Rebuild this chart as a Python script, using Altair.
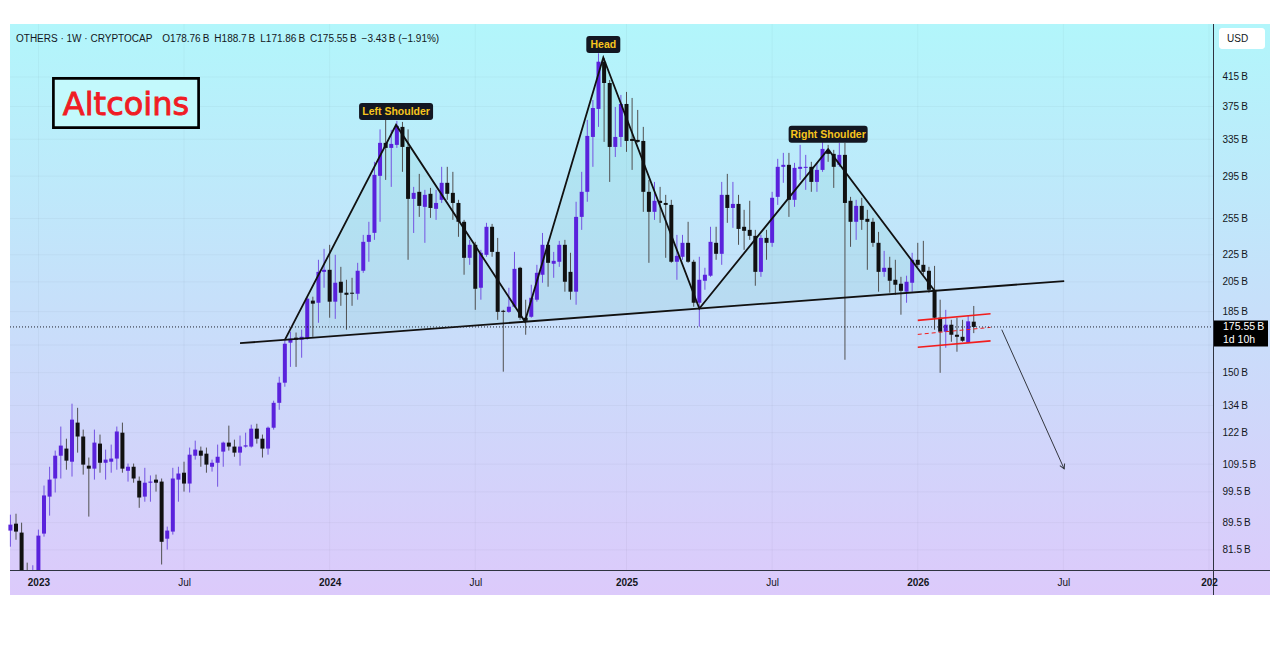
import altair as alt
import pandas as pd

# ---------------- data (values in billions USD) ----------------
FIRST_WEEK = "2022-11-28"

opens = [
    87.1, 89.2, 86.5, 75.5, 74.6, 75.8, 86.2, 97.9, 104.2, 112.7,
    115.5, 110.4, 126.3, 120.4, 108.9, 107.8, 117.5, 110.0, 110.4, 111.6,
    122.0, 107.0, 108.5, 103.4, 97.9, 102.7, 103.8, 103.1, 84.7, 86.8,
    103.8, 106.3, 102.4, 112.7, 114.7, 113.5, 108.5, 110.0, 114.3, 117.9,
    116.3, 113.9, 116.3, 116.3, 123.7, 119.5, 115.5, 124.1, 135.2, 144.9,
    166.3, 169.2, 168.0, 168.6, 192.2, 190.8, 212.2, 213.7, 191.5, 205.1,
    197.5, 197.5, 196.8, 213.0, 235.3, 242.7, 295.3, 330.8, 325.1, 328.5,
    349.5, 326.2, 272.8, 279.5, 265.4, 277.6, 263.6, 271.9, 288.3, 278.5,
    269.0, 252.1, 222.7, 232.9, 200.9, 225.0, 247.8, 227.3, 185.6, 184.9,
    188.2, 215.2, 181.2, 181.8, 192.8, 210.1, 232.9, 218.2, 219.7, 232.9,
    212.2, 198.2, 256.4, 279.5, 337.6, 371.8, 437.4, 406.5, 326.2, 337.6,
    378.2, 335.3, 334.2, 333.0, 279.5, 260.9, 271.0, 269.0, 267.2, 219.7,
    223.5, 234.5, 219.7, 190.8, 205.8, 209.4, 234.5, 225.8, 276.6, 264.4,
    268.1, 247.8, 245.2, 240.2, 212.2, 238.5, 234.5, 274.7, 304.6, 306.7,
    271.9, 302.5, 303.5, 304.6, 289.2, 301.4, 322.9, 318.5, 306.7, 317.4,
    271.0, 252.1, 266.3, 254.7, 252.1, 234.5, 212.2, 215.2, 206.5, 203.7,
    198.2, 204.4, 221.2, 217.4, 213.0, 199.5, 181.2, 172.7, 176.9, 170.9,
    169.7, 166.3, 178.76,
]
highs = [
    92.0, 92.3, 89.5, 78.0, 77.3, 87.4, 101.7, 108.5, 114.7, 124.6,
    119.5, 134.8, 132.9, 123.3, 112.0, 123.3, 121.2, 115.1, 117.1, 124.6,
    126.3, 109.7, 109.7, 104.9, 108.1, 105.3, 105.6, 104.2, 88.3, 108.1,
    108.5, 110.4, 115.9, 118.7, 116.3, 115.9, 111.2, 117.1, 118.3, 125.0,
    119.1, 120.8, 122.0, 125.4, 125.8, 121.2, 124.6, 136.2, 147.9, 168.0,
    172.7, 172.2, 173.9, 194.8, 194.8, 221.2, 229.7, 232.9, 225.0, 215.9,
    206.5, 207.9, 218.9, 241.0, 252.1, 309.9, 346.5, 359.2, 345.9, 356.8,
    355.5, 346.5, 284.3, 297.3, 281.4, 283.3, 281.4, 304.6, 304.6, 299.4,
    271.9, 253.8, 236.9, 235.3, 228.9, 251.2, 250.3, 238.5, 186.2, 200.9,
    227.3, 215.9, 192.8, 203.0, 217.4, 242.6, 235.3, 227.3, 236.1, 236.9,
    226.6, 270.1, 299.4, 358.0, 383.4, 450.3, 443.0, 410.7, 374.3, 390.1,
    394.2, 386.1, 370.5, 349.5, 291.2, 289.2, 284.3, 276.6, 271.9, 241.0,
    241.0, 252.1, 221.2, 223.5, 215.2, 247.8, 247.8, 289.2, 297.3, 289.2,
    276.6, 262.7, 271.0, 245.2, 241.0, 245.2, 279.5, 313.1, 319.6, 319.6,
    308.8, 328.5, 317.4, 309.9, 308.8, 334.2, 328.5, 322.9, 330.8, 330.8,
    274.7, 271.9, 273.8, 262.7, 255.5, 243.5, 228.1, 223.5, 221.2, 208.6,
    209.4, 226.6, 234.5, 236.1, 215.9, 216.6, 192.8, 186.2, 179.9, 181.2,
    179.9, 182.4, 188.7,
]
lows = [
    82.4, 84.4, 73.5, 72.8, 73.5, 75.0, 85.3, 91.7, 99.3, 104.2,
    107.4, 104.9, 113.9, 105.6, 91.4, 103.8, 106.3, 103.8, 106.3, 107.4,
    106.3, 103.1, 102.7, 94.2, 96.2, 96.2, 99.6, 77.5, 81.6, 85.9,
    96.2, 99.6, 99.3, 111.2, 108.5, 106.3, 106.7, 101.3, 108.5, 114.7,
    112.3, 108.9, 115.9, 115.9, 117.5, 112.0, 113.1, 123.3, 132.0, 142.9,
    153.0, 153.0, 157.9, 168.0, 169.7, 178.1, 200.9, 181.2, 180.5, 188.8,
    173.9, 188.8, 192.8, 211.5, 219.7, 236.9, 252.1, 291.2, 284.3, 325.1,
    299.4, 221.2, 242.6, 256.4, 234.5, 255.5, 253.8, 269.0, 271.9, 253.8,
    239.4, 210.1, 217.4, 186.2, 192.8, 223.5, 223.5, 179.9, 150.5, 184.3,
    187.6, 179.9, 170.9, 181.2, 191.5, 204.4, 201.6, 207.9, 215.9, 198.2,
    192.8, 189.5, 245.2, 270.1, 304.6, 349.5, 331.9, 289.2, 315.1, 326.2,
    320.7, 301.4, 330.8, 260.9, 218.9, 253.8, 251.2, 222.7, 218.9, 206.5,
    221.2, 218.9, 188.2, 175.7, 199.5, 208.6, 221.2, 217.4, 251.2, 246.9,
    232.9, 228.9, 236.9, 202.3, 208.6, 221.2, 231.3, 267.2, 288.3, 256.4,
    265.4, 291.2, 281.4, 279.5, 279.5, 299.4, 309.9, 283.3, 304.6, 156.8,
    231.3, 236.9, 245.2, 213.7, 231.3, 198.2, 208.6, 197.5, 196.1, 183.1,
    190.8, 198.2, 215.9, 210.1, 197.5, 173.9, 149.9, 163.4, 166.8, 161.2,
    166.8, 166.0, 171.86,
]
closes = [
    88.9, 86.8, 74.8, 74.6, 75.8, 85.6, 98.3, 103.8, 112.7, 116.7,
    110.8, 127.6, 120.4, 109.3, 107.8, 117.9, 110.0, 111.2, 111.6, 122.5,
    107.8, 108.5, 104.2, 97.6, 102.7, 103.1, 102.7, 83.8, 87.1, 104.2,
    106.0, 102.4, 113.1, 115.1, 112.7, 109.3, 110.0, 112.3, 117.9, 116.3,
    113.9, 116.3, 116.8, 123.7, 119.5, 115.5, 124.1, 135.2, 144.9, 165.7,
    168.6, 168.0, 169.7, 193.5, 190.2, 212.2, 213.7, 191.5, 204.4, 197.5,
    196.1, 196.8, 213.0, 235.3, 241.0, 296.3, 330.8, 325.1, 329.6, 350.7,
    326.2, 272.8, 278.5, 266.3, 276.6, 264.4, 269.0, 288.3, 277.6, 269.0,
    252.1, 222.7, 232.9, 200.2, 226.6, 247.8, 227.3, 184.9, 184.9, 188.2,
    214.4, 181.2, 179.3, 194.1, 211.5, 232.9, 218.9, 220.4, 232.9, 205.1,
    198.2, 256.4, 279.5, 338.8, 373.0, 437.4, 406.5, 326.2, 337.6, 378.2,
    333.0, 333.0, 331.9, 279.5, 260.9, 271.0, 269.0, 267.2, 219.7, 224.2,
    234.5, 219.7, 190.8, 206.5, 210.1, 235.3, 225.8, 276.6, 264.4, 268.1,
    246.0, 244.4, 240.2, 212.2, 238.5, 234.5, 273.8, 304.6, 306.7, 271.9,
    303.5, 304.6, 304.6, 289.2, 301.4, 324.0, 318.5, 304.6, 317.4, 269.0,
    252.1, 266.3, 253.8, 252.1, 234.5, 212.2, 215.2, 205.8, 203.0, 198.8,
    205.1, 221.2, 217.4, 212.2, 199.5, 181.2, 172.7, 176.9, 170.9, 169.7,
    167.4, 178.98, 175.55,
]
week_dates = pd.date_range(FIRST_WEEK, periods=len(opens), freq="7D").strftime("%Y-%m-%d").tolist()

header_text = ("OTHERS \u00b7 1W \u00b7 CRYPTOCAP\u2003O178.76\u2009B\u2002H188.7\u2009B\u2002"
               "L171.86\u2009B\u2002C175.55\u2009B\u2002\u22123.43\u2009B (\u22121.91%)")
countdown_text = "1d 10h"

y_tick_values = [81.5, 89.5, 99.5, 109.5, 122, 134, 150, 185, 205, 225, 255, 295, 335, 375, 415]
y_grid_values = [81.5, 89.5, 99.5, 109.5, 122, 134, 150, 165, 185, 205, 225, 255, 295, 335, 375, 415]
x_tick_dates = ["2023-01-02", "2023-07-03", "2024-01-01", "2024-07-01", "2025-01-06",
                "2025-07-07", "2026-01-05", "2026-07-06", "2027-01-04"]

# head & shoulders drawing
pattern_dates = ["2023-11-06", "2024-03-24", "2024-09-01", "2024-12-08", "2025-04-07", "2025-09-15", "2026-01-26"]
pattern_top = [167.9, 351.9, 178.8, 443.7, 187.0, 323.7, 198.8]
pattern_neck = [167.9, 172.9, 178.8, 182.4, 187.0, 193.4, 198.8]
neck_dates = ["2023-09-11", "2026-07-07"]
neck_prices = [166.0, 205.6]
label_texts = ["Left Shoulder", "Head", "Right Shoulder"]
label_dates = ["2024-03-24", "2024-12-08", "2025-09-15"]
label_prices = [351.9, 443.7, 323.7]

# red flag channel
channel_dates = ["2026-01-05", "2026-04-06"]
channel_upper = [179.6, 183.7]
channel_mid = [171.1, 175.3]
channel_lower = [163.7, 167.3]

# projection arrow
arrow_dates = ["2026-04-20", "2026-07-07"]
arrow_prices = [173.9, 107.7]

# ---------------- styling / layout ----------------
PW, PH = 1260, 571          # whole pane incl. price & time strips
XR, YB = 1203, 546          # data area right edge / bottom edge
UP, DOWN = "#5a22dc", "#111111"
UP_WICK, DOWN_WICK = "#7453e2", "#505050"
TXT = "#131722"
FONT = "Liberation Sans"


def d(s):
    y, m, dd = (int(p) for p in s.split("-"))
    return alt.DateTime(year=y, month=m, date=dd, utc=True)


xscale = alt.Scale(type="utc", domain=[alt.DateTime(year=2022, month=11, date=27, hours=12, utc=True),
                                       alt.DateTime(year=2027, month=1, date=9, utc=True)],
                   range=[0, XR])
yscale = alt.Scale(type="log", domain=[76.05, 498.0], range=[YB, 0], clamp=True)

xaxis = alt.Axis(orient="bottom", offset=-(PH - YB), values=[d(s) for s in x_tick_dates],
                 labelExpr="utcyear(datum.value) >= 2027 ? '202' : (utcmonth(datum.value) == 0 ? utcFormat(datum.value, '%Y') : utcFormat(datum.value, '%b'))",
                 labelFontWeight={"condition": {"test": "utcmonth(datum.value) == 0", "value": "bold"}, "value": "normal"},
                 ticks=False, tickSize=0, domain=False, grid=False, labelPadding=7, labelFontSize=10,
                 labelFont=FONT, labelColor=TXT, title=None, zindex=1, labelFlush=False, labelOverlap=False)
yaxis = alt.Axis(orient="right", offset=-(PW - XR), values=y_tick_values,
                 labelExpr="datum.value + '\u2009B'", ticks=False, tickSize=0, domain=False, grid=False,
                 labelPadding=9, labelAlign="left", labelFontSize=10, labelFont=FONT, labelColor=TXT,
                 title=None, zindex=1, labelOverlap=False)


def X(field):
    return alt.X(field, type="temporal", scale=xscale, axis=xaxis)


def Y(field):
    return alt.Y(field, type="quantitative", scale=yscale, axis=yaxis)


def rounded_box(w, h, r):
    hh = h / w
    c = 2.0 * r / w
    return (f"M{-1 + c:.4f},{-hh:.4f}L{1 - c:.4f},{-hh:.4f}Q1,{-hh:.4f} 1,{-hh + c:.4f}"
            f"L1,{hh - c:.4f}Q1,{hh:.4f} {1 - c:.4f},{hh:.4f}L{-1 + c:.4f},{hh:.4f}"
            f"Q-1,{hh:.4f} -1,{hh - c:.4f}L-1,{-hh + c:.4f}Q-1,{-hh:.4f} {-1 + c:.4f},{-hh:.4f}Z")


one = pd.DataFrame({"k": [0]})
candles = pd.DataFrame({"date": week_dates, "open": opens, "high": highs, "low": lows, "close": closes})
xticks_df = pd.DataFrame({"date": x_tick_dates})
ygrid_df = pd.DataFrame({"price": y_grid_values})
pattern_df = pd.DataFrame({"date": pattern_dates, "top": pattern_top, "neck": pattern_neck})
neck_df = pd.DataFrame({"date": neck_dates, "price": neck_prices})
arrow_df = pd.DataFrame({"date": arrow_dates, "price": arrow_prices})
last_df = pd.DataFrame({"price": [closes[-1]], "label": [f"{closes[-1]:.2f}\u2009B"], "cd": [countdown_text]})

grad = alt.LinearGradient(gradient="linear",
                          stops=[alt.GradientStop(color="#b2f6fb", offset=0),
                                 alt.GradientStop(color="#c7dffa", offset=0.5),
                                 alt.GradientStop(color="#dccafb", offset=1)],
                          x1=0, x2=0, y1=0, y2=1)

layers = []
layers.append(alt.Chart(one).mark_rect(fill=grad).encode(
    x=alt.value(0), x2=alt.value(PW), y=alt.value(0), y2=alt.value(PH)))
layers.append(alt.Chart(xticks_df).mark_rule(color="#000000", opacity=0.035).encode(
    x=X("date"), y=alt.value(0), y2=alt.value(YB)))
layers.append(alt.Chart(ygrid_df).mark_rule(color="#000000", opacity=0.035).encode(
    y=Y("price"), x=alt.value(0), x2=alt.value(XR)))
layers.append(alt.Chart(pattern_df).mark_area(color="#1fa08a", opacity=0.08).encode(
    x=X("date"), y=Y("top"), y2="neck:Q"))

updown_wick = alt.condition("datum.close >= datum.open", alt.value(UP_WICK), alt.value(DOWN_WICK))
updown_body = alt.condition("datum.close >= datum.open", alt.value(UP), alt.value(DOWN))
layers.append(alt.Chart(candles).mark_rule(strokeWidth=1).encode(
    x=X("date"), y=Y("low"), y2="high:Q", color=updown_wick))
layers.append(alt.Chart(candles).mark_rule(strokeWidth=4, strokeCap="butt").encode(
    x=X("date"), y=Y("open"), y2="close:Q", color=updown_body))

layers.append(alt.Chart(pattern_df).mark_line(color="#111111", strokeWidth=1.8).encode(
    x=X("date"), y=Y("top")))
layers.append(alt.Chart(neck_df).mark_line(color="#111111", strokeWidth=1.8).encode(
    x=X("date"), y=Y("price")))

for vals, dash, sw in [(channel_upper, None, 1.7), (channel_lower, None, 1.7), (channel_mid, [4, 3], 1.0)]:
    cdf = pd.DataFrame({"date": channel_dates, "price": vals})
    kw = dict(color="#f21d1d", strokeWidth=sw)
    if dash:
        kw["strokeDash"] = dash
    layers.append(alt.Chart(cdf).mark_line(**kw).encode(x=X("date"), y=Y("price")))

layers.append(alt.Chart(arrow_df).mark_line(color="#33363f", strokeWidth=1).encode(
    x=X("date"), y=Y("price")))
layers.append(alt.Chart(arrow_df.tail(1)).mark_point(
    shape="M-0.55,-1L0,0L0.55,-1", size=90, filled=False, strokeWidth=1, color="#33363f",
    opacity=1, angle=336).encode(x=X("date"), y=Y("price")))

layers.append(alt.Chart(last_df).mark_rule(color="#1e2029", strokeDash=[1, 2], strokeWidth=1).encode(
    y=Y("price"), x=alt.value(0), x2=alt.value(XR)))

box_style = {"Left Shoulder": (74, 17, -13.5), "Head": (34, 17, -13.0), "Right Shoulder": (79, 17, -15.0)}
for name, dt, pr in zip(label_texts, label_dates, label_prices):
    w, h, off = box_style[name]
    ldf = pd.DataFrame({"date": [dt], "price": [pr]})
    layers.append(alt.Chart(ldf).mark_point(
        shape=rounded_box(w, h, 3), size=w * w, filled=True, color="#131722", opacity=1,
        strokeWidth=0, yOffset=off).encode(x=X("date"), y=Y("price")))
    layers.append(alt.Chart(ldf).mark_text(
        text=name, font=FONT, fontWeight="bold", fontSize=10.5, color="#f7c51e",
        align="center", baseline="middle", dy=off + 0.5).encode(x=X("date"), y=Y("price")))

# "Altcoins" text box
layers.append(alt.Chart(one).mark_rect(fill="#c3f9fc", stroke="#000000", strokeWidth=2.7).encode(
    x=alt.value(43.4), x2=alt.value(188.6), y=alt.value(54.4), y2=alt.value(103.6)))
layers.append(alt.Chart(one).mark_text(text="Altcoins", font="DejaVu Sans", fontWeight="normal",
                                       fontSize=32, color="#f01c24", stroke="#f01c24", strokeWidth=0.9,
                                       align="center", baseline="alphabetic").encode(
    x=alt.value(116), y=alt.value(90.5)))

# header line
layers.append(alt.Chart(one).mark_text(text=header_text, font=FONT, fontSize=10, color=TXT,
                                       align="left", baseline="alphabetic").encode(
    x=alt.value(6), y=alt.value(17.5)))

# frame lines
layers.append(alt.Chart(one).mark_rule(color="#2f3340", strokeWidth=1).encode(
    x=alt.value(XR + 0.5), y=alt.value(0), y2=alt.value(PH)))
layers.append(alt.Chart(one).mark_rule(color="#2f3340", strokeWidth=1).encode(
    y=alt.value(YB + 0.5), x=alt.value(0), x2=alt.value(PW)))

# currency box
layers.append(alt.Chart(one).mark_rect(fill="#ffffff", cornerRadius=3).encode(
    x=alt.value(1209), x2=alt.value(1255), y=alt.value(4), y2=alt.value(25)))
layers.append(alt.Chart(one).mark_text(text="USD", font=FONT, fontSize=10, color=TXT,
                                       align="left", baseline="middle").encode(
    x=alt.value(1217), y=alt.value(14.5)))

# last price tag
layers.append(alt.Chart(last_df).mark_rect(color="#000000", yOffset=-6.5, y2Offset=19.5).encode(
    x=alt.value(XR + 1), x2=alt.value(XR + 55), y=Y("price"), y2="price:Q"))
layers.append(alt.Chart(last_df).mark_text(font=FONT, fontSize=10.5, color="#ffffff",
                                           align="left", baseline="middle").encode(
    x=alt.value(XR + 10), y=Y("price"), text="label:N"))
layers.append(alt.Chart(last_df).mark_text(font=FONT, fontSize=10.5, color="#ffffff",
                                           align="left", baseline="middle", dy=13).encode(
    x=alt.value(XR + 10), y=Y("price"), text="cd:N"))

chart = alt.layer(*layers).properties(
    width=PW, height=PH,
    padding={"left": 2, "top": 16, "right": 0, "bottom": 10},
    autosize=alt.AutoSizeParams(type="none"),
).configure_view(stroke=None)

chart.save("out.html", embed_options={"renderer": "svg", "actions": False})
